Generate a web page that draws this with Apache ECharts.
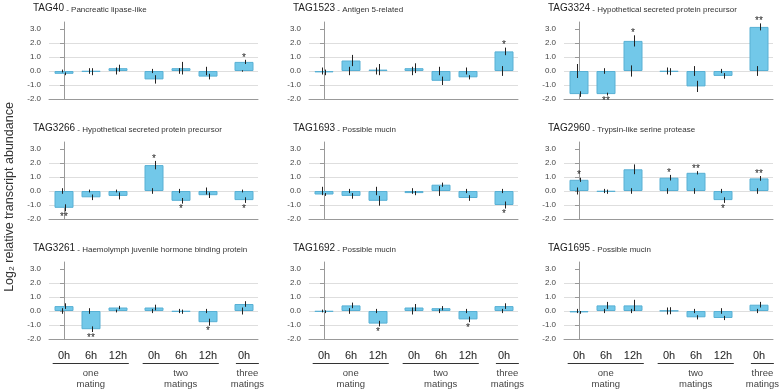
<!DOCTYPE html>
<html>
<head>
<meta charset="utf-8">
<script src="https://cdn.jsdelivr.net/npm/echarts@6/dist/echarts.min.js"></script>
<style>
  html, body { margin: 0; padding: 0; background: #fff; }
  #chart { width: 782px; height: 392px; }
</style>
</head>
<body>
<div id="chart"></div>
<script>
var chart = echarts.init(document.getElementById('chart'));

// 数据
var genes = ['TAG40', 'TAG1523', 'TAG3324', 'TAG3266', 'TAG1693', 'TAG2960', 'TAG3261', 'TAG1692', 'TAG1695'];
var descriptions = [
  'Pancreatic lipase-like', 'Antigen 5-related', 'Hypothetical secreted protein precursor',
  'Hypothetical secreted protein precursor', 'Possible mucin', 'Trypsin-like serine protease',
  'Haemolymph juvenile hormone binding protein', 'Possible mucin', 'Possible mucin'
];
var hours = ['0h', '6h', '12h', '0h', '6h', '12h', '0h'];
var groupOf = [0, 0, 0, 1, 1, 1, 2];
var groupNames = ['one\nmating', 'two\nmatings', 'three\nmatings'];
var yTicks = [-2, -1, 0, 1, 2, 3];

// log2 值
var values = [
  [-0.2, -0.05, 0.2, -0.6, 0.2, -0.4, 0.65],
  [-0.1, 0.75, 0.1, 0.2, -0.7, -0.45, 1.4],
  [-1.65, -1.65, 2.15, -0.05, -1.1, -0.35, 3.15],
  [-1.2, -0.45, -0.35, 1.85, -0.7, -0.3, -0.65],
  [-0.25, -0.35, -0.7, -0.15, 0.45, -0.5, -1.0],
  [0.8, -0.05, 1.55, 0.95, 1.3, -0.65, 0.9],
  [0.35, -1.3, 0.25, 0.25, -0.05, -0.8, 0.5],
  [-0.05, 0.4, -0.9, 0.25, 0.2, -0.6, 0.35],
  [-0.1, 0.4, 0.4, 0.02, -0.45, -0.5, 0.45]
];
// 柱顶误差
var errBar = [
  [0.1, 0.25, 0.25, 0.3, 0.45, 0.2, 0.15],
  [0.2, 0.4, 0.4, 0.35, 0.3, 0.15, 0.27],
  [0.2, 0.1, 0.4, 0.25, 0.4, 0.2, 0.25],
  [0.25, 0.2, 0.25, 0.3, 0.2, 0.2, 0.2],
  [0.1, 0.2, 0.35, 0.15, 0.15, 0.2, 0.25],
  [0.15, 0.15, 0.35, 0.2, 0.12, 0.2, 0.17],
  [0.2, 0.2, 0.12, 0.2, 0.15, 0.25, 0.2],
  [0.1, 0.2, 0.2, 0.25, 0.15, 0.2, 0.2],
  [0.1, 0.25, 0.4, 0.25, 0.15, 0.15, 0.2]
];
// 零点误差
var errBase = [
  [0.1, 0.2, 0.25, 0.15, 0.2, 0.3, 0.05],
  [0.25, 0.3, 0.25, 0.3, 0.3, 0.25, 0.35],
  [0.5, 0.2, 0.4, 0.25, 0.35, 0.15, 0.35],
  [0.2, 0.1, 0.1, 0.2, 0.15, 0.25, 0.1],
  [0.3, 0.15, 0.3, 0.2, 0.35, 0.15, 0.15],
  [0.25, 0.15, 0.2, 0.2, 0.2, 0.15, 0.2],
  [0.2, 0.2, 0.1, 0.15, 0.15, 0.15, 0.25],
  [0.1, 0.2, 0.15, 0.25, 0.15, 0.15, 0.15],
  [0.15, 0.15, 0.15, 0.25, 0.15, 0.2, 0.15]
];
// 显著性
var signif = [
  ['', '', '', '', '', '', '*'],
  ['', '', '', '', '', '', '*'],
  ['', '**', '*', '', '', '', '**'],
  ['**', '', '', '*', '*', '', '*'],
  ['', '', '', '', '', '', '*'],
  ['*', '', '', '*', '**', '*', '**'],
  ['', '**', '', '', '', '*', ''],
  ['', '', '*', '', '', '*', ''],
  ['', '', '', '', '', '', '']
];

// 布局
var colLeft = [49, 309, 564];
var rowTop = [22, 142, 262];
var gridW = 209, gridH = 77;
var font = 'Liberation Sans, Arial, sans-serif';

// 组之间留 1/3 个间隔
var xPos = groupOf.map(function (g, i) { return i + g / 3; });

var grids = [], xAxes = [], yAxes = [], series = [], graphics = [];

function errorRenderer(p, bottomRow) {
  return function (params, api) {
    var i = api.value(4);
    var x = api.value(0), v = api.value(1), e = api.value(2), e0 = api.value(3);
    var style = { stroke: '#222', lineWidth: 1 };
    var cx = Math.round(api.coord([x, 0])[0]);
    var children = [];
    var a = api.coord([x, e0]), b = api.coord([x, -e0]);
    children.push({ type: 'line', shape: { x1: cx - 1.5, y1: a[1], x2: cx - 1.5, y2: b[1] }, style: style });
    var t = api.coord([x, v + e]), d = api.coord([x, v - e]);
    children.push({ type: 'line', shape: { x1: cx + 1.5, y1: t[1], x2: cx + 1.5, y2: d[1] }, style: style });
    var s = signif[p][i];
    if (s) {
      var end = v >= 0 ? t[1] - 2 : d[1] + 6;
      children.push({
        type: 'text', x: cx, y: end,
        style: { text: s, font: '10px ' + font, fill: '#222', align: 'center', verticalAlign: 'middle' }
      });
    }
    if (bottomRow) {
      var base = api.coord([x, -2]);
      children.push({
        type: 'text', x: cx, y: base[1] + 17,
        style: { text: hours[i], font: '11px ' + font, fill: '#222', align: 'center', verticalAlign: 'middle' }
      });
    }
    return { type: 'group', children: children };
  };
}

function groupRenderer(params, api) {
  var x0 = api.value(0), x1 = api.value(1), gi = api.value(2);
  var l = api.coord([x0, -2]), r = api.coord([x1, -2]);
  var y = Math.round(l[1] + 24) + 0.5;
  return {
    type: 'group',
    children: [
      { type: 'line', shape: { x1: l[0], y1: y, x2: r[0], y2: y }, style: { stroke: '#333', lineWidth: 1 } },
      {
        type: 'text', x: (l[0] + r[0]) / 2, y: l[1] + 40,
        style: { text: groupNames[gi], font: '9.5px ' + font, fill: '#444', align: 'center', verticalAlign: 'middle', lineHeight: 11 }
      }
    ]
  };
}

for (var p = 0; p < 9; p++) {
  var r = Math.floor(p / 3), c = p % 3;
  grids.push({ left: colLeft[c], top: rowTop[r], width: gridW, height: gridH });
  xAxes.push({
    type: 'value', gridIndex: p, min: -0.556, max: 7.185,
    axisLine: { show: true, onZero: false, lineStyle: { color: '#999' } },
    axisTick: { show: false }, axisLabel: { show: false }, splitLine: { show: false }
  });
  yAxes.push({
    type: 'value', gridIndex: p, min: -2, max: 3.5, interval: 1,
    axisLine: { show: true, lineStyle: { color: '#999' } },
    axisTick: { show: true, length: 4, customValues: yTicks, lineStyle: { color: '#999' } },
    axisLabel: {
      customValues: yTicks, margin: 8, color: '#444', fontSize: 8, fontFamily: font,
      formatter: function (v) { return v.toFixed(1); }
    },
    splitLine: { show: true, showMaxLine: false, lineStyle: { color: '#dedede' } }
  });

  series.push({
    type: 'bar', xAxisIndex: p, yAxisIndex: p, barWidth: 19,
    itemStyle: { color: '#72c8e9', borderColor: '#58b0d4', borderWidth: 1 },
    data: values[p].map(function (v, i) { return [xPos[i], v]; })
  });
  series.push({
    type: 'custom', xAxisIndex: p, yAxisIndex: p, z: 5,
    renderItem: errorRenderer(p, r === 2),
    data: values[p].map(function (v, i) { return [xPos[i], v, errBar[p][i], errBase[p][i], i]; })
  });
  if (r === 2) {
    var gdata = groupNames.map(function (n, gi) {
      var idx = groupOf.map(function (g, i) { return g === gi ? i : -1; }).filter(function (i) { return i >= 0; });
      var first = xPos[idx[0]], last = xPos[idx[idx.length - 1]];
      var padL = idx.length > 1 ? 0.42 : 0.3, padR = idx.length > 1 ? 0.4 : 0.55;
      return [first - padL, last + padR, gi];
    });
    series.push({
      type: 'custom', xAxisIndex: p, yAxisIndex: p, clip: false,
      renderItem: groupRenderer, data: gdata
    });
  }

  graphics.push({
    type: 'text', x: colLeft[c] - 16, y: rowTop[r] - 13.5,
    style: {
      text: '{a|' + genes[p] + '}{b| - ' + descriptions[p] + '}',
      verticalAlign: 'middle',
      rich: {
        a: { font: '10px ' + font, fill: '#222' },
        b: { font: '8px ' + font, fill: '#333', verticalAlign: 'bottom' }
      }
    }
  });
}

graphics.push({
  type: 'text', x: 10, y: 197, rotation: Math.PI / 2,
  style: { text: 'Log₂ relative transcript abundance', font: '12.5px ' + font, fill: '#333', align: 'center', verticalAlign: 'middle' }
});

chart.setOption({
  animation: false,
  grid: grids,
  xAxis: xAxes,
  yAxis: yAxes,
  series: series,
  graphic: graphics
});
</script>
</body>
</html>
